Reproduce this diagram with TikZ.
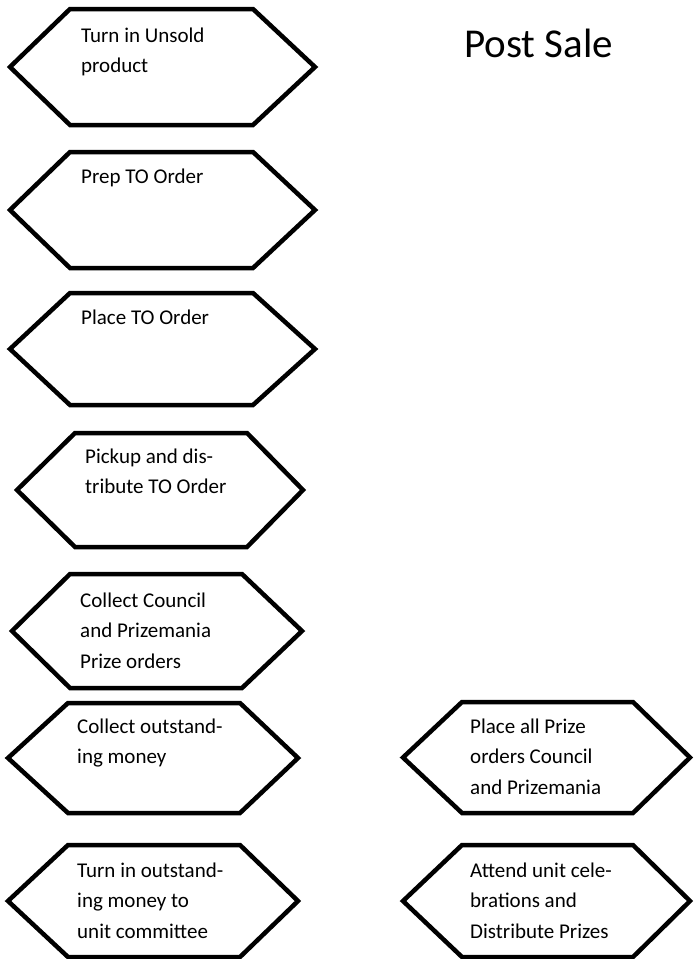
\documentclass[tikz,border=0pt]{standalone}
\usepackage{fontspec}
\setmainfont{Carlito}
\newcommand\myhex[6]{%
  \draw[hexline] (#1,{(#5+#6)/2}) -- (#2,#5) -- (#3,#5) -- (#4,{(#5+#6)/2}) -- (#3,#6) -- (#2,#6) -- cycle;}
\begin{document}
\begin{tikzpicture}[x=1pt,y=-1pt,
  hexline/.style={line width=4.5pt,line join=miter,black},
  lbl/.style={anchor=base west,align=left,inner sep=0pt,
    font=\fontsize{21pt}{30.5pt}\selectfont},
  title/.style={anchor=base west,inner sep=0pt,font=\fontsize{41pt}{43pt}\selectfont}]
\useasboundingbox (0,0) rectangle (696,959);
\fill[white] (0,0) rectangle (696,959);
\myhex{10}{70}{253}{315}{9}{125}
\myhex{10}{70}{253}{315}{152}{268}
\myhex{10}{70}{253}{315}{293}{405}
\myhex{17}{75}{247}{303}{433}{547}
\myhex{12}{70}{242}{302}{574}{688}
\myhex{8}{68}{240}{298}{703}{813}
\myhex{8}{68}{240}{298}{845}{957}
\myhex{403}{462}{633}{690}{702}{813}
\myhex{403}{462}{633}{690}{845}{957}
\node[title] (ttl) at (464,57) {Post Sale};
\node[lbl] (t1) at (81,72.5) {Turn in Unsold\\product};
\node[lbl] (t2) at (81,183) {Prep TO Order};
\node[lbl] (t3) at (81,324) {Place TO Order};
\node[lbl] (t4) at (85,493.5) {Pickup and dis-\\tribute TO Order};
\node[lbl] (t5) at (80,668) {Collect Council\\and Prizemania\\Prize orders};
\node[lbl] (t6) at (77,763.5) {Collect outstand-\\ing money};
\node[lbl] (t7) at (77,938) {Turn in outstand-\\ing money to\\unit committee};
\node[lbl] (t8) at (470,794) {Place all Prize\\orders Council\\and Prizemania};
\node[lbl] (t9) at (470,938) {Attend unit cele-\\brations and\\Distribute Prizes};
\end{tikzpicture}
\end{document}
